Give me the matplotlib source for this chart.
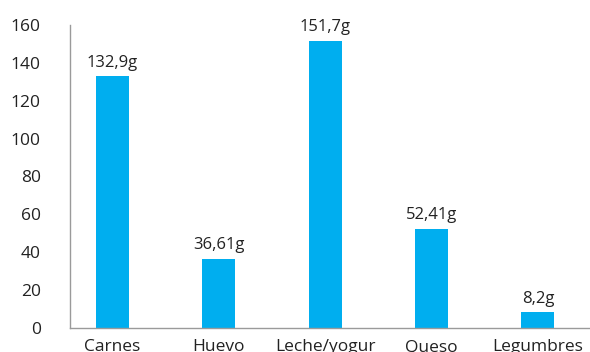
import matplotlib
matplotlib.use("Agg")
import matplotlib.pyplot as plt

categories = ["Carnes", "Huevo", "Leche/yogur", "Queso", "Legumbres"]
values = [132.9, 36.61, 151.7, 52.41, 8.2]
value_labels = ["132,9g", "36,61g", "151,7g", "52,41g", "8,2g"]
yticks = [0, 20, 40, 60, 80, 100, 120, 140, 160]

plt.rcParams["font.family"] = ["Open Sans", "DejaVu Sans"]

fig = plt.figure(figsize=(5.9, 3.52), dpi=100)
ax = fig.add_axes([70 / 590, 24 / 352, 1 - 70 / 590, 303 / 352])

x = range(len(categories))
bars = ax.bar(x, values, width=0.31, color="#00AEEF", zorder=2)

for rect, lab in zip(bars, value_labels):
    ax.annotate(lab, (rect.get_x() + rect.get_width() / 2, rect.get_height()),
                xytext=(0, 4), textcoords="offset points",
                ha="center", va="bottom", fontsize=12, color="#222222")

ax.set_xlim(-0.4, 4.49)
ax.set_ylim(0, 160)
ax.set_yticks(yticks)
ax.set_xticks(list(x))
ax.set_xticklabels(categories)
ax.tick_params(axis="y", length=0, pad=21, labelsize=12.5, colors="#222222")
ax.tick_params(axis="x", length=0, pad=8, labelsize=12.5, colors="#222222")
for lab in ax.get_yticklabels():
    lab.set_horizontalalignment("right")

for s in ("top", "right"):
    ax.spines[s].set_visible(False)
for s in ("left", "bottom"):
    ax.spines[s].set_color("#9a9a9a")
    ax.spines[s].set_linewidth(1.0)

fig.savefig("out.png", dpi=100)
